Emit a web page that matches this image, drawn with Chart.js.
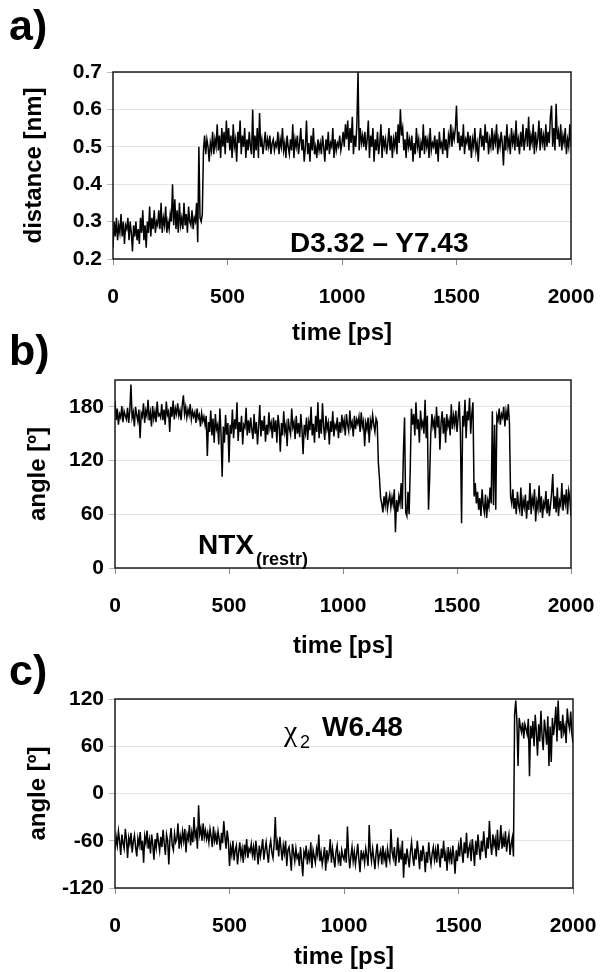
<!DOCTYPE html>
<html>
<head>
<meta charset="utf-8">
<script src="https://cdn.jsdelivr.net/npm/chart.js@4.4.1/dist/chart.umd.min.js"></script>
<style>
  body { margin: 0; background: #fff; }
  #page { position: relative; width: 600px; height: 972px; font-family: "Liberation Sans", Arial, sans-serif; font-weight: bold; color: #000; }
  .box { position: absolute; left: 0; width: 600px; }
  .tag { position: absolute; font-size: 43px; line-height: 1; }
  .note { position: absolute; white-space: nowrap; line-height: 1; }
</style>
</head>
<body>
<div id="page">
  <div class="box" style="top:0;height:350px"><canvas id="chartA"></canvas></div>
  <div class="box" style="top:350px;height:318px"><canvas id="chartB"></canvas></div>
  <div class="box" style="top:668px;height:304px"><canvas id="chartC"></canvas></div>

  <div class="tag" style="left:9px;top:4px">a)</div>
  <div class="tag" style="left:9px;top:329px">b)</div>
  <div class="tag" style="left:9px;top:649px">c)</div>

  <div class="note" style="left:290px;top:229px;font-size:28px">D3.32 – Y7.43</div>
  <div class="note" style="left:198px;top:531px;font-size:28px">NTX</div>
  <div class="note" style="left:256px;top:550px;font-size:18px">(restr)</div>
  <div class="note" style="left:284px;top:716px;font-size:30px;font-family:'Liberation Serif',serif;font-weight:normal">χ</div>
  <div class="note" style="left:300px;top:733px;font-size:18px;font-weight:normal">2</div>
  <div class="note" style="left:322px;top:713px;font-size:28px">W6.48</div>
</div>

<script>
// sampling step of the traces (ps)
const stepPs = 5;
const timeTicks = [0, 500, 1000, 1500, 2000];

// a) D3.32 - Y7.43 distance, nm (one row = 100 ps)
const distanceNm = [
  0.23,0.30,0.26,0.31,0.25,0.29,0.27,0.32,0.26,0.30,0.24,0.29,0.28,0.31,0.25,0.30,0.27,0.22,0.29,0.26,
  0.30,0.25,0.28,0.24,0.31,0.27,0.33,0.25,0.29,0.23,0.30,0.27,0.34,0.26,0.31,0.28,0.33,0.27,0.30,0.29,
  0.33,0.28,0.35,0.27,0.31,0.29,0.34,0.27,0.30,0.28,0.32,0.30,0.40,0.29,0.36,0.28,0.33,0.27,0.35,0.29,
  0.31,0.28,0.35,0.29,0.32,0.27,0.34,0.30,0.29,0.33,0.28,0.31,0.30,0.35,0.245,0.50,0.31,0.30,0.32,0.49,
  0.53,0.48,0.52,0.50,0.46,0.51,0.49,0.54,0.48,0.52,0.50,0.56,0.49,0.53,0.47,0.55,0.50,0.54,0.48,0.57,
  0.51,0.55,0.49,0.53,0.47,0.56,0.50,0.52,0.46,0.54,0.51,0.57,0.48,0.53,0.50,0.55,0.47,0.52,0.49,0.54,
  0.50,0.48,0.60,0.47,0.53,0.49,0.55,0.47,0.59,0.50,0.52,0.48,0.51,0.54,0.49,0.52,0.50,0.53,0.48,0.51,
  0.52,0.49,0.51,0.50,0.54,0.48,0.52,0.50,0.55,0.49,0.51,0.47,0.53,0.50,0.48,0.52,0.49,0.56,0.47,0.52,
  0.50,0.53,0.48,0.51,0.55,0.49,0.52,0.46,0.50,0.57,0.48,0.51,0.46,0.53,0.49,0.55,0.48,0.50,0.47,0.52,
  0.49,0.51,0.48,0.53,0.50,0.46,0.52,0.49,0.54,0.48,0.51,0.50,0.55,0.47,0.52,0.49,0.51,0.50,0.53,0.49,
  0.51,0.54,0.50,0.56,0.52,0.57,0.49,0.55,0.51,0.58,0.48,0.53,0.50,0.56,0.70,0.49,0.55,0.51,0.53,0.50,
  0.54,0.49,0.52,0.57,0.47,0.53,0.50,0.55,0.46,0.52,0.49,0.54,0.48,0.51,0.56,0.47,0.53,0.50,0.52,0.48,
  0.51,0.55,0.49,0.53,0.47,0.52,0.50,0.54,0.48,0.56,0.51,0.60,0.53,0.55,0.49,0.52,0.47,0.54,0.50,0.52,
  0.49,0.53,0.46,0.51,0.48,0.55,0.50,0.52,0.47,0.51,0.49,0.56,0.48,0.53,0.50,0.52,0.47,0.55,0.49,0.51,
  0.50,0.53,0.48,0.52,0.46,0.54,0.50,0.51,0.48,0.55,0.49,0.52,0.47,0.53,0.51,0.56,0.50,0.54,0.52,0.55,
  0.61,0.51,0.54,0.49,0.53,0.50,0.56,0.48,0.52,0.51,0.54,0.49,0.53,0.47,0.52,0.50,0.55,0.49,0.51,0.46,
  0.52,0.55,0.50,0.53,0.49,0.56,0.51,0.54,0.48,0.52,0.50,0.55,0.49,0.53,0.51,0.56,0.48,0.52,0.50,0.54,
  0.51,0.45,0.53,0.49,0.56,0.50,0.52,0.48,0.55,0.51,0.53,0.49,0.57,0.50,0.52,0.48,0.54,0.50,0.56,0.49,
  0.52,0.55,0.50,0.58,0.49,0.53,0.51,0.56,0.48,0.54,0.50,0.52,0.57,0.49,0.55,0.51,0.53,0.49,0.56,0.50,
  0.54,0.51,0.58,0.61,0.50,0.55,0.49,0.615,0.52,0.54,0.50,0.56,0.49,0.53,0.51,0.55,0.48,0.52,0.50,0.56,
  0.50
];

// b) NTX(restr) angle, degrees
const angleNtx = [
  186,165,178,160,172,168,181,163,175,170,166,179,162,176,205,168,174,158,180,171,
  164,177,145,173,169,184,162,176,170,188,165,174,158,181,167,175,163,186,170,172,
  168,183,165,177,160,186,171,175,152,180,169,187,166,178,172,184,170,176,165,182,
  193,172,180,168,177,171,183,166,175,169,174,162,178,167,171,158,173,164,169,160,
  170,125,163,152,176,148,167,140,172,155,160,138,178,150,102,158,140,171,149,162,
  118,160,150,177,145,166,155,185,142,163,152,170,138,160,157,179,148,165,151,168,
  155,144,172,150,163,138,158,182,147,165,153,170,141,160,149,174,156,162,145,168,
  152,165,140,171,158,130,162,148,175,152,160,136,167,155,149,178,157,163,144,170,
  150,162,146,172,155,127,160,151,168,143,163,154,180,148,161,140,170,152,185,145,
  166,150,184,158,143,170,155,162,138,164,152,175,147,160,156,168,145,163,151,171,
  157,165,148,172,160,153,176,158,163,147,170,155,166,161,169,152,174,158,164,136,
  162,155,168,140,165,158,171,160,152,167,163,118,100,78,72,62,80,70,85,66,
  75,82,68,79,71,88,40,76,63,80,72,95,66,130,168,62,58,85,60,112,
  178,160,172,148,185,155,166,140,176,158,163,150,188,145,170,65,100,150,172,158,
  165,145,180,157,170,132,162,175,150,168,140,172,158,165,148,183,155,170,160,176,
  152,168,186,150,50,170,158,188,145,175,165,190,150,172,185,80,95,72,85,65,
  78,58,88,70,62,82,56,75,68,90,72,175,70,160,65,170,165,178,160,172,
  168,180,158,175,165,183,162,80,72,88,66,78,60,85,70,64,90,58,76,68,
  82,55,75,65,95,60,78,70,88,52,74,66,92,62,80,56,73,68,86,61,
  77,58,70,84,105,66,80,62,90,58,75,70,95,64,82,72,88,60,86,78,
  58
];

// c) chi2 W6.48 angle, degrees
const angleChi2 = [
  -72,-55,-66,-48,-60,-78,-52,-63,-70,-45,-58,-82,-56,-64,-50,-75,-61,-53,-68,-80,
  -57,-66,-49,-72,-60,-88,-54,-63,-47,-70,-59,-76,-52,-65,-84,-58,-69,-50,-62,-73,
  -55,-68,-46,-63,-78,-52,-60,-90,-57,-44,-66,-72,-51,-62,-58,-38,-70,-54,-64,-48,
  -60,-45,-75,-52,-58,-40,-66,-50,-62,-30,-55,-48,-70,-15,-52,-44,-60,-38,-56,-47,
  -58,-50,-62,-45,-55,-68,-42,-60,-52,-65,-48,-58,-72,-50,-63,-35,-55,-70,-47,-60,
  -92,-68,-78,-60,-85,-72,-66,-90,-75,-62,-80,-70,-88,-65,-76,-58,-82,-70,-74,-64,
  -78,-68,-85,-60,-74,-90,-66,-80,-70,-58,-84,-72,-62,-76,-88,-68,-60,-75,-82,-64,
  -30,-72,-62,-80,-55,-70,-85,-66,-76,-60,-92,-72,-68,-80,-98,-64,-75,-86,-70,-82,
  -78,-92,-68,-85,-105,-74,-80,-66,-90,-76,-84,-62,-95,-72,-80,-88,-70,-78,-52,-86,
  -75,-90,-80,-68,-98,-72,-84,-76,-58,-88,-70,-82,-94,-74,-66,-86,-78,-92,-72,-80,
  -84,-70,-88,-42,-76,-95,-80,-68,-86,-74,-90,-78,-64,-84,-100,-72,-82,-76,-88,-70,
  -80,-92,-40,-74,-86,-70,-82,-96,-76,-64,-88,-78,-72,-90,-66,-84,-76,-94,-70,-80,
  -86,-45,-74,-82,-68,-92,-78,-56,-88,-72,-84,-60,-107,-76,-90,-70,-82,-94,-74,-62,
  -80,-92,-70,-84,-60,-76,-96,-72,-86,-66,-78,-100,-74,-88,-62,-80,-90,-76,-68,-84,
  -72,-88,-64,-80,-94,-70,-82,-60,-86,-76,-98,-68,-84,-74,-90,-66,-80,-102,-72,-86,
  -68,-80,-56,-74,-88,-62,-76,-50,-82,-70,-64,-86,-58,-72,-92,-60,-78,-52,-70,-84,
  -60,-74,-48,-68,-82,-56,-70,-35,-64,-78,-52,-66,-58,-80,-46,-72,-62,-40,-70,-56,
  -68,-48,-74,-60,-52,-78,-64,-56,-80,100,118,92,35,96,85,78,90,70,88,82,
  75,95,22,86,70,92,60,100,78,48,88,66,105,72,55,94,80,62,98,35,
  85,40,96,74,88,110,66,118,80,92,70,100,78,86,64,108,90,82,104,76,
  64
];

const distTicks = [0.2, 0.3, 0.4, 0.5, 0.6, 0.7];
const ntxTicks = [0, 60, 120, 180];
const chiTicks = [-120, -60, 0, 60, 120];

const tickFont = { family: 'Liberation Sans', size: 21, weight: 'bold' };
const titleFont = { family: 'Liberation Sans', size: 24, weight: 'bold' };

// black box around the plot area
const frame = {
  id: 'frame',
  afterDatasetsDraw(chart) {
    const { ctx, chartArea: a } = chart;
    ctx.save();
    ctx.strokeStyle = '#1a1a1a';
    ctx.lineWidth = 1.5;
    ctx.strokeRect(a.left, a.top, a.right - a.left, a.bottom - a.top);
    ctx.restore();
  }
};

function makeChart(id, values, yMin, yMax, yTicks, fmt, yTitle, g) {
  const points = values.map((v, i) => ({ x: i * stepPs, y: v }));
  return new Chart(id, {
    type: 'line',
    data: { datasets: [{ data: points, borderColor: '#000', borderWidth: 1.5, pointRadius: 0, tension: 0 }] },
    options: {
      responsive: true,
      maintainAspectRatio: false,
      animation: false,
      layout: { padding: { top: g.top, right: 600 - g.right, left: 0, bottom: 0 } },
      plugins: { legend: { display: false }, tooltip: { enabled: false } },
      scales: {
        x: {
          type: 'linear', min: 0, max: 2000,
          afterBuildTicks: s => { s.ticks = timeTicks.map(v => ({ value: v })); },
          afterFit: s => { s.height = g.h - g.bottom; s.paddingLeft = 0; s.paddingRight = 0; },
          grid: { drawOnChartArea: false, tickLength: 6, tickColor: '#888' },
          border: { display: false },
          ticks: { padding: 20, color: '#000', font: tickFont, maxRotation: 0, autoSkip: false, callback: v => String(v) },
          title: { display: true, text: 'time [ps]', color: '#000', font: titleFont, padding: { top: 0, bottom: g.xTitlePad } }
        },
        y: {
          min: yMin, max: yMax,
          afterBuildTicks: s => { s.ticks = yTicks.map(v => ({ value: v })); },
          afterFit: s => { s.width = g.left; s.paddingTop = 0; s.paddingBottom = 0; },
          grid: { color: '#e3e3e3', tickLength: 6, tickColor: '#bbb' },
          border: { display: false },
          ticks: { padding: 5, color: '#000', font: tickFont, callback: fmt },
          title: { display: true, text: yTitle, color: '#000', font: titleFont, padding: { top: g.yTitlePad, bottom: 0 } }
        }
      }
    },
    plugins: [frame]
  });
}

makeChart('chartA', distanceNm, 0.2, 0.7, distTicks, v => v.toFixed(1), 'distance [nm]',
  { h: 350, top: 72, bottom: 259, left: 113, right: 571, xTitlePad: 2, yTitlePad: 20 });
makeChart('chartB', angleNtx, 0, 210, ntxTicks, v => String(v), 'angle [º]',
  { h: 318, top: 30, bottom: 218, left: 115, right: 571, xTitlePad: 7, yTitlePad: 24 });
makeChart('chartC', angleChi2, -120, 120, chiTicks, v => String(v), 'angle [º]',
  { h: 304, top: 31, bottom: 220, left: 115, right: 573, xTitlePad: 0, yTitlePad: 24 });
</script>
</body>
</html>
